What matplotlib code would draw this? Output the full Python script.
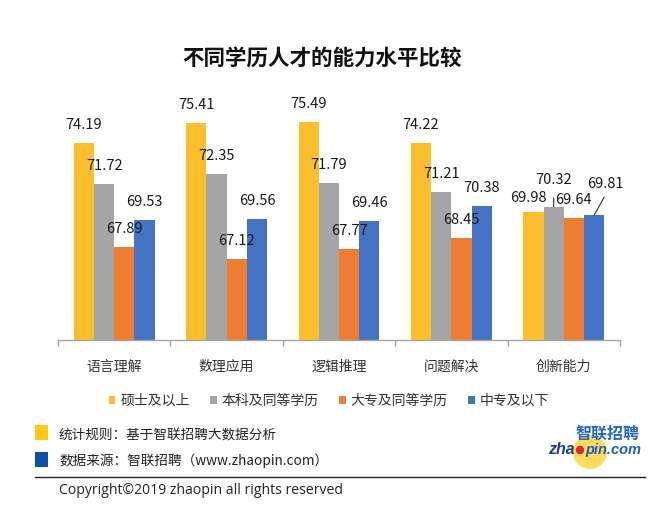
import matplotlib
matplotlib.use("Agg")
import matplotlib.pyplot as plt
from matplotlib.patches import Circle, Rectangle
from matplotlib.lines import Line2D
import numpy as np

plt.rcParams['font.family'] = ['Noto Sans CJK SC', 'DejaVu Sans']

# ---------------- data ----------------
title = "不同学历人才的能力水平比较"
categories = ["语言理解", "数理应用", "逻辑推理", "问题解决", "创新能力"]
series_names = ["硕士及以上", "本科及同等学历", "大专及同等学历", "中专及以下"]
master = [74.19, 75.41, 75.49, 74.22, 69.98]
bachelor = [71.72, 72.35, 71.79, 71.21, 70.32]
college = [67.89, 67.12, 67.77, 68.45, 69.64]
secondary = [69.53, 69.56, 69.46, 70.38, 69.81]
note1 = "统计规则：基于智联招聘大数据分析"
note2 = "数据来源：智联招聘（www.zhaopin.com）"
copyright_text = "Copyright©2019 zhaopin all rights reserved"

series = [master, bachelor, college, secondary]
colors = ["#FBBE2C", "#A5A5A5", "#ED7D31", "#4472C4"]

W, H = 656, 513
fig = plt.figure(figsize=(W / 100, H / 100), dpi=100)
fig.patch.set_facecolor("white")

def fx(px):
    return px / W

def fy(py):
    return 1 - py / H

# axes placement (pixels)
ax_left, ax_right, ax_base = 58, 620, 340
ymin, ymax = 62.2, 77.0
ppu = 16.4
ax_h = (ymax - ymin) * ppu
ax = fig.add_axes([fx(ax_left), fy(ax_base), (ax_right - ax_left) / W, ax_h / H])
ax.set_xlim(-0.5, len(categories) - 0.5)
ax.set_ylim(ymin, ymax)

x = np.arange(len(categories))
bw = 0.18
offsets = (np.arange(4) - 1.5) * bw
bars = []
for i, (vals, col) in enumerate(zip(series, colors)):
    b = ax.bar(x + offsets[i], vals, width=bw, bottom=0, color=col,
               label=series_names[i], zorder=2)
    bars.append(b)

# data labels (pixel offsets from bar top)
default_off = (0, 18)
special_off = {(4, 0): (-5, 14), (4, 1): (0, 27), (4, 2): (0, 18), (4, 3): (11, 31)}
for si, vals in enumerate(series):
    for ci, v in enumerate(vals):
        dx, dy = special_off.get((ci, si), default_off)
        ax.annotate(f"{v:.2f}", xy=(x[ci] + offsets[si], v), xytext=(dx, dy),
                    textcoords="offset pixels", ha="center", va="center",
                    fontsize=10.5, color="#1a1a1a", annotation_clip=False)

# leader lines
leaders = {(4, 1): (0, 9), (4, 3): (10, 18)}
for (ci, si), (dx, dy) in leaders.items():
    ax.annotate("", xy=(x[ci] + offsets[si], series[si][ci]), xytext=(dx, dy),
                textcoords="offset pixels",
                arrowprops=dict(arrowstyle="-", color="#333333", lw=0.8,
                                shrinkA=0, shrinkB=0),
                annotation_clip=False)

for s in ["top", "left", "right"]:
    ax.spines[s].set_visible(False)
ax.spines["bottom"].set_color("#A6A6A6")
ax.spines["bottom"].set_linewidth(1.0)
ax.set_yticks([])
ax.set_xticks(x)
ax.set_xticklabels(categories, fontsize=10, color="#333333")
ax.tick_params(axis="x", which="major", length=0, pad=14)
ax.set_xticks(np.arange(len(categories) + 1) - 0.5, minor=True)
ax.tick_params(axis="x", which="minor", length=4, color="#A6A6A6", width=1)
ax.set_facecolor("none")

# legend
leg = fig.legend(handles=[b for b in bars], labels=series_names, loc="center",
                 bbox_to_anchor=(fx(329), fy(401)), ncol=4, frameon=False,
                 fontsize=10, handlelength=0.45, handleheight=0.45,
                 handletextpad=0.35, columnspacing=1.5)
for t in leg.get_texts():
    t.set_color("#333333")

# title
fig.text(fx(322), fy(59), title, ha="center", va="center", fontsize=15.5,
         fontweight="bold", color="#111111")

# footer
inch = fig.dpi_scale_trans
def pr(px, py):
    return (px / 100, (H - py) / 100)

fig.patches.append(Rectangle(pr(35, 440), 0.13, 0.15, transform=inch,
                             facecolor="#FFC914", edgecolor="none"))
fig.patches.append(Rectangle(pr(35, 467), 0.13, 0.15, transform=inch,
                             facecolor="#0D4EA6", edgecolor="none"))
fig.text(fx(59), fy(434), note1, ha="left", va="center", fontsize=9.8,
         color="#222222")
fig.text(fx(59), fy(461), note2, ha="left", va="center", fontsize=9.8,
         color="#222222")
fig.add_artist(Line2D([fx(35), fx(645)], [fy(477), fy(477)],
                      transform=fig.transFigure, color="#222222", lw=1.0))
fig.text(fx(59), fy(491), copyright_text, ha="left", va="center",
         fontsize=10.1, family=["Open Sans", "DejaVu Sans"], color="#222222")

# logo
fig.patches.append(Circle(pr(590, 452), 0.17, transform=inch,
                          facecolor="#FFD84A", edgecolor="none", alpha=0.9))
fig.text(fx(640), fy(434), "智联招聘", ha="right", va="center", fontsize=11.5,
         fontweight="bold", color="#2366C9")
fig.text(fx(575), fy(450), "zha", ha="right", va="center", fontsize=11.5,
         fontweight="bold", style="italic", family=["Liberation Sans"],
         color="#1B3F8F")
fig.patches.append(Circle(pr(580, 450), 0.042, transform=inch,
                          facecolor="#E0262A", edgecolor="none"))
fig.text(fx(585), fy(450), "pin.com", ha="left", va="center", fontsize=10.5,
         fontweight="bold", style="italic", family=["Liberation Sans"],
         color="#1B5FC0")

fig.savefig("out.png", dpi=100, facecolor="white")
